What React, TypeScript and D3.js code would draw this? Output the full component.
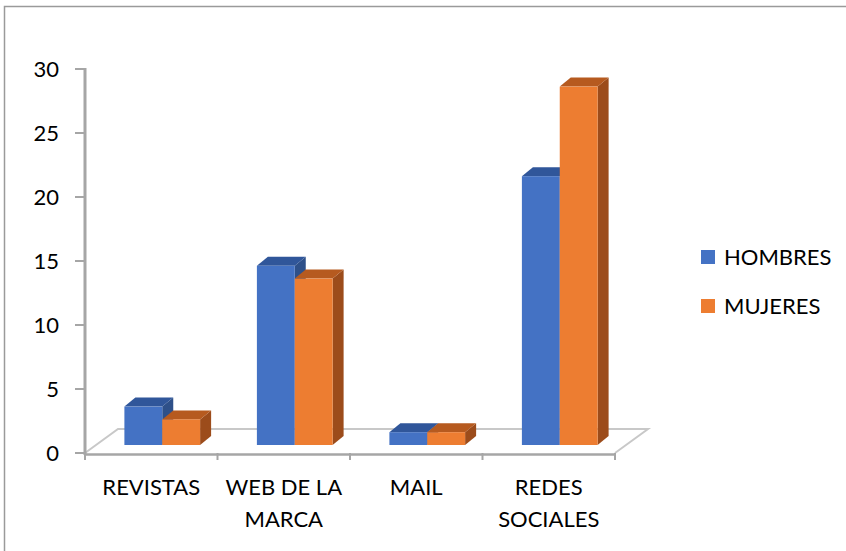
import React from "react";
import * as d3 from "d3";

const categories = ["REVISTAS", "WEB DE LA MARCA", "MAIL", "REDES SOCIALES"];
const categoryLines = [["REVISTAS"], ["WEB DE LA", "MARCA"], ["MAIL"], ["REDES", "SOCIALES"]];
const seriesNames = ["HOMBRES", "MUJERES"];
const hombres = [3, 14, 1, 21];
const mujeres = [2, 13, 1, 28];
const yTicks = [0, 5, 10, 15, 20, 25, 30];

const W = 846;
const H = 551;
const FONT = "Lato, 'Open Sans', sans-serif";

const colors = {
  HOMBRES: { front: "#4472C4", top: "#30569A", side: "#2E5089" },
  MUJERES: { front: "#ED7D31", top: "#B65A1F", side: "#9C4C1B" },
};

export default function App() {
  const left = 85;
  const right = 615;
  const yFront = d3.scaleLinear().domain([0, 30]).range([453, 69]);
  const x0 = d3.scaleBand<string>().domain(categories).range([left, right]).padding(0);
  const x1 = d3
    .scaleBand<string>()
    .domain(seriesNames)
    .range([0, x0.bandwidth()])
    .paddingInner(0)
    .paddingOuter(0.75);

  const floorDx = 33;
  const floorDy = -24;
  const barOffX = 11;
  const barOffY = -8;
  const depthX = 11;
  const depthY = -9;

  const data = [hombres, mujeres];
  const y0 = yFront(0);

  const bars: any[] = [];
  categories.forEach((c, ci) => {
    seriesNames.forEach((s, si) => {
      const v = data[si][ci];
      const xa = (x0(c) as number) + (x1(s) as number) + barOffX;
      const xb = xa + x1.bandwidth();
      const yb = y0 + barOffY;
      const yt = yFront(v) + barOffY;
      const col = (colors as any)[s];
      const side = `M${xb},${yt} L${xb + depthX},${yt + depthY} L${xb + depthX},${yb + depthY} L${xb},${yb} Z`;
      const top = `M${xa},${yt} L${xb},${yt} L${xb + depthX},${yt + depthY} L${xa + depthX},${yt + depthY} Z`;
      bars.push(
        <g key={c + s}>
          <path d={side} fill={col.side} />
          <path d={top} fill={col.top} />
          <rect x={xa} y={yt} width={xb - xa} height={yb - yt} fill={col.front} />
        </g>
      );
    });
  });

  const axisColor = "#a6a6a6";
  const floorColor = "#c8c8c8";

  return (
    <div style={{ position: "absolute", left: 0, top: 0, width: W, height: H, background: "#fff" }}>
      <svg width={W} height={H} style={{ display: "block" }}>
        <rect x={0} y={0} width={W} height={H} fill="#fff" />
        {/* chart border */}
        <path d={`M4.5,${H + 5} L4.5,6.5 L${W + 5},6.5`} fill="none" stroke="#9a9a9a" strokeWidth={1.5} />

        {/* floor */}
        <path
          d={`M${left},${y0} L${left + floorDx},${y0 + floorDy} L${right + floorDx},${y0 + floorDy} L${right},${y0}`}
          fill="none"
          stroke={floorColor}
          strokeWidth={2}
        />

        {bars}

        {/* category axis */}
        <line x1={left} x2={right} y1={y0 + 1.5} y2={y0 + 1.5} stroke={axisColor} strokeWidth={2.5} />
        {categories.map((c) => (
          <line key={c} x1={x0(c)} x2={x0(c)} y1={y0} y2={y0 + 7} stroke={axisColor} strokeWidth={2} />
        ))}
        <line x1={right} x2={right} y1={y0} y2={y0 + 7} stroke={axisColor} strokeWidth={2} />

        {/* value axis */}
        <line x1={left} x2={left} y1={yFront(30) - 1} y2={y0 + 2} stroke={axisColor} strokeWidth={3} />
        {yTicks.map((t) => (
          <g key={t}>
            <line x1={left - 10} x2={left} y1={yFront(t)} y2={yFront(t)} stroke={axisColor} strokeWidth={2} />
            <text
              x={59}
              y={yFront(t)}
              dy="0.36em"
              textAnchor="end"
              fontFamily={FONT}
              fontSize={22}
              fill="#000"
            >
              {t}
            </text>
          </g>
        ))}

        {/* category labels */}
        {categories.map((c, i) => (
          <text
            key={c}
            x={(x0(c) as number) + x0.bandwidth() / 2}
            y={495}
            textAnchor="middle"
            fontFamily={FONT}
            fontSize={22}
            fill="#000"
          >
            {categoryLines[i].map((ln, li) => (
              <tspan key={li} x={(x0(c) as number) + x0.bandwidth() / 2} y={495 + li * 32}>
                {ln}
              </tspan>
            ))}
          </text>
        ))}

        {/* legend */}
        {seriesNames.map((s, i) => (
          <g key={s} transform={`translate(701,${250 + i * 49})`}>
            <rect x={0} y={0} width={14} height={14} fill={(colors as any)[s].front} />
            <text x={23} y={7} dy="0.36em" fontFamily={FONT} fontSize={22} fill="#000">
              {s}
            </text>
          </g>
        ))}
      </svg>
    </div>
  );
}
